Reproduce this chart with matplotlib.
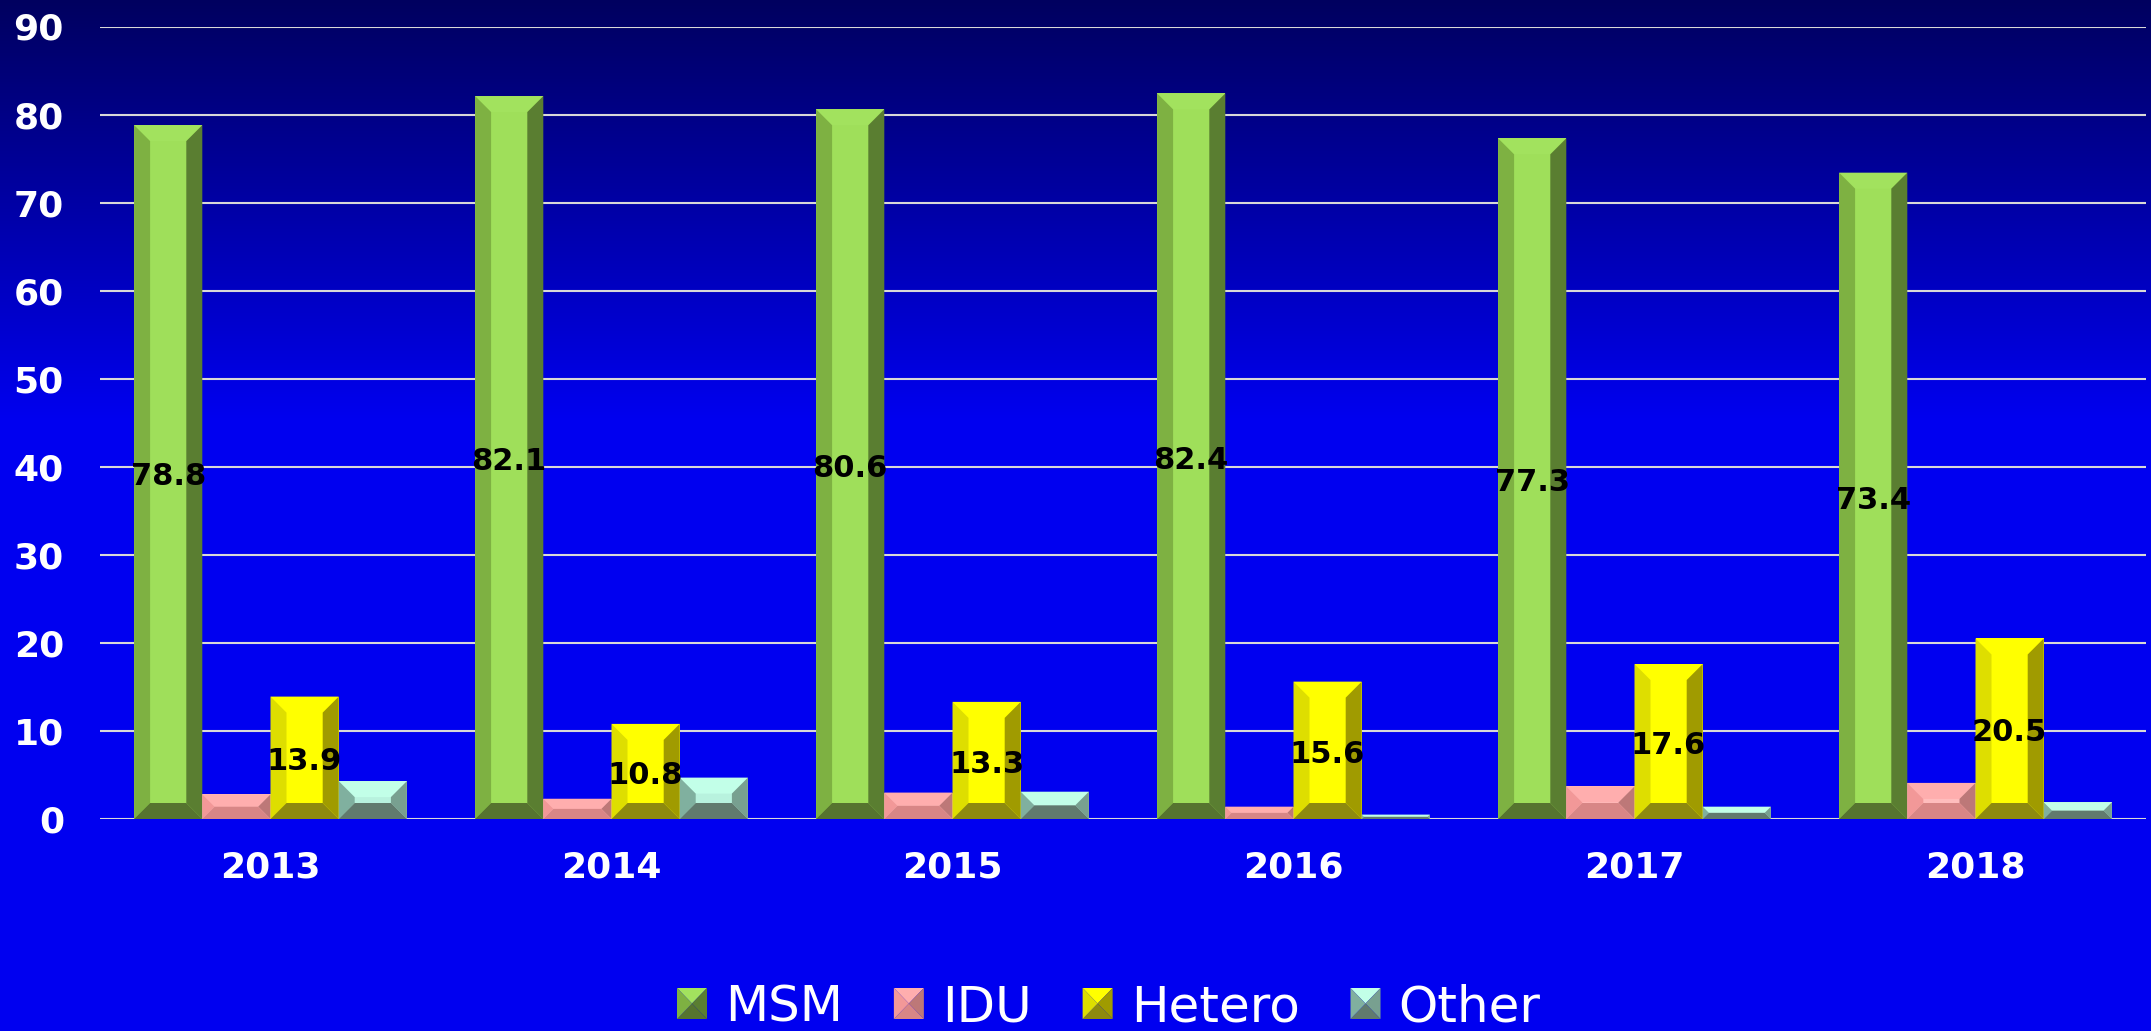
import numpy as np
import matplotlib
matplotlib.use('Agg')
import matplotlib.pyplot as plt
from matplotlib.patches import Polygon
from matplotlib.transforms import IdentityTransform

# data
years = ['2013', '2014', '2015', '2016', '2017', '2018']
series_names = ['MSM', 'IDU', 'Hetero', 'Other']
msm = [78.8, 82.1, 80.6, 82.4, 77.3, 73.4]
idu = [2.8, 2.3, 3.0, 1.4, 3.7, 4.1]
hetero = [13.9, 10.8, 13.3, 15.6, 17.6, 20.5]
other = [4.3, 4.7, 3.1, 0.5, 1.4, 1.9]
yticks = [0, 10, 20, 30, 40, 50, 60, 70, 80, 90]
labelled = ['MSM', 'Hetero']

# bevel colours: face, top, left, right, bottom
palette = {
    'MSM':    ['#9FDF5A', '#A2E25E', '#7EB142', '#5A7E31', '#56742F'],
    'IDU':    ['#FFBDBD', '#FFAEAE', '#F29898', '#BD7878', '#D88686'],
    'Hetero': ['#FFFF00', '#FFFF00', '#DEDE00', '#A09B00', '#8E8A0E'],
    'Other':  ['#B8F2DE', '#C2FFE8', '#80B09F', '#78A090', '#617A6E'],
}

W, H = 2151, 1031
fig = plt.figure(figsize=(W / 100, H / 100), dpi=100)

# background gradient
bg = fig.add_axes([0, 0, 1, 1], zorder=-10)
rows = np.arange(H)
blue = np.clip(95 + (240 - 95) * rows / 420, 95, 240) / 255
img = np.zeros((H, 1, 3))
img[:, 0, 2] = blue
bg.imshow(img, aspect='auto', extent=[0, 1, 0, 1])
bg.axis('off')

ax = fig.add_axes([100 / W, 212 / H, 2046 / W, (819 - 26.5) / H])
ax.set_facecolor('none')
ax.set_xlim(-0.5, 5.5)
ax.set_ylim(0, 90)
for s in ax.spines.values():
    s.set_visible(False)

ax.set_yticks(yticks)
ax.yaxis.grid(True, color='#D8D8D8', linewidth=1.5)
ax.set_axisbelow(True)
ax.tick_params(axis='y', length=0, pad=26, labelsize=26, labelcolor='white')
ax.set_xticks(range(len(years)))
ax.set_xticklabels(years)
ax.tick_params(axis='x', length=0, pad=23, labelsize=26, labelcolor='white')
for lab in ax.get_xticklabels() + ax.get_yticklabels():
    lab.set_fontweight('bold')

values = [msm, idu, hetero, other]
bw = 0.2
x = np.arange(len(years))

p0 = ax.transData.transform((0, 0))
p1 = ax.transData.transform((1, 1))
ppx, ppy = p1[0] - p0[0], p1[1] - p0[1]


def bevel_bar(xc, h, cols, b_px=16):
    x0, x1 = xc - bw / 2, xc + bw / 2
    b = min(b_px, bw * ppx / 2, h * ppy / 2)
    bx, by = b / ppx, b / ppy
    polys = [
        ([(x0, h), (x1, h), (x1 - bx, h - by), (x0 + bx, h - by)], cols[1]),
        ([(x0, 0), (x0 + bx, by), (x0 + bx, h - by), (x0, h)], cols[2]),
        ([(x1, 0), (x1 - bx, by), (x1 - bx, h - by), (x1, h)], cols[3]),
        ([(x0, 0), (x1, 0), (x1 - bx, by), (x0 + bx, by)], cols[4]),
    ]
    for pts, c in polys:
        ax.add_patch(Polygon(pts, closed=True, facecolor=c, edgecolor='none', zorder=3))


for i, (name, vals) in enumerate(zip(series_names, values)):
    xs = x - 1.5 * bw + i * bw
    cols = palette[name]
    ax.bar(xs, vals, width=bw, color=cols[0], zorder=2)
    for xc, v in zip(xs, vals):
        bevel_bar(xc, v, cols)
        if name in labelled:
            ax.annotate(f'{v:.1f}', (xc, v / 2), xytext=(0, -3), textcoords='offset points',
                        ha='center', va='center', fontsize=22, fontweight='bold',
                        color='black', zorder=5)

# legend drawn by hand
renderer = fig.canvas.get_renderer()
lx = 677
my0, my1 = 12, 43
for name in series_names:
    cols = palette[name]
    cx, cy = lx + 15, (my0 + my1) / 2
    corners = [(lx, my1), (lx + 30, my1), (lx + 30, my0), (lx, my0)]
    tris = [
        ([corners[0], corners[1], (cx, cy)], cols[1]),
        ([corners[1], corners[2], (cx, cy)], cols[3]),
        ([corners[2], corners[3], (cx, cy)], cols[4]),
        ([corners[3], corners[0], (cx, cy)], cols[2]),
    ]
    for pts, c in tris:
        fig.add_artist(Polygon(pts, closed=True, facecolor=c, edgecolor='none',
                               transform=IdentityTransform()))
    t = fig.text((lx + 48) / W, 9 / H, name, fontsize=36, color='white',
                 ha='left', va='baseline')
    tw = t.get_window_extent(renderer).width
    lx = lx + 48 + tw + 51

fig.savefig('out.png', dpi=100)
